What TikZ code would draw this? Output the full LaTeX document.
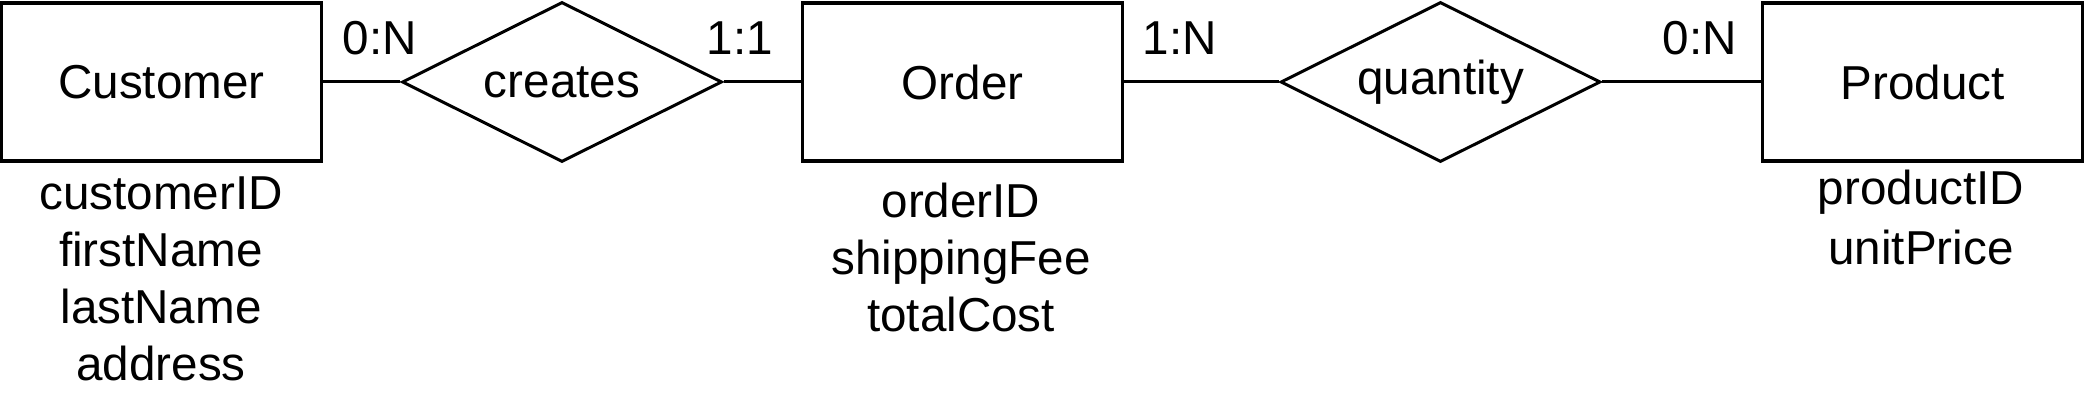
\documentclass[tikz,border=0pt]{standalone}
\usepackage{fontspec}
\setmainfont{Liberation Sans}
\usetikzlibrary{shapes.geometric,positioning}

\begin{document}
\begin{tikzpicture}[x=.25pt,y=-.25pt,
			every node/.style={font=\fontsize{11.9}{14.3}\selectfont,inner sep=0pt},
			entity/.style={draw,line width=.8pt,minimum width=80pt,minimum height=39.5pt},
			relation/.style={draw,diamond,aspect=2,line width=.75pt,minimum width=80pt,minimum height=40pt},
			card/.style={anchor=base},
			attr/.style={anchor=base}]
			\useasboundingbox (0,0) rectangle (2084,404);
			\node[entity] (customer) at (161.5,82) {Customer};
			\node[relation] (creates) at (562,82) {creates};
			\node[entity] (order) at (962.5,82) {Order};
			\node[relation] (quantity) at (1440.5,82) {quantity};
			\node[entity] (product) at (1922.5,82) {Product};
			\foreach \a/\b in {customer/creates,creates/order,order/quantity,quantity/product}
			{\draw[line width=.75pt] (\a)--(\b);}
			\node[card] (cardcust) at (380,55) {0:N};
			\node[card] (cardord1) at (740,55) {1:1};
			\node[card] (cardord2) at (1180,55) {1:N};
			\node[card] (cardprod) at (1700,55) {0:N};
			\foreach \t [count=\i] in {customerID,firstName,lastName,address}
			{\node[attr] (cust-\t) at (161,{210+57*(\i-1)}) {\t};}
			\foreach \t [count=\i] in {orderID,shippingFee,totalCost}
			{\node[attr] (ord-\t) at (961,{218+57*(\i-1)}) {\t};}
			\foreach \t [count=\i] in {productID,unitPrice}
			{\node[attr] (prod-\t) at (1921,{205+60*(\i-1)}) {\t};}
		\end{tikzpicture}
\end{document}
